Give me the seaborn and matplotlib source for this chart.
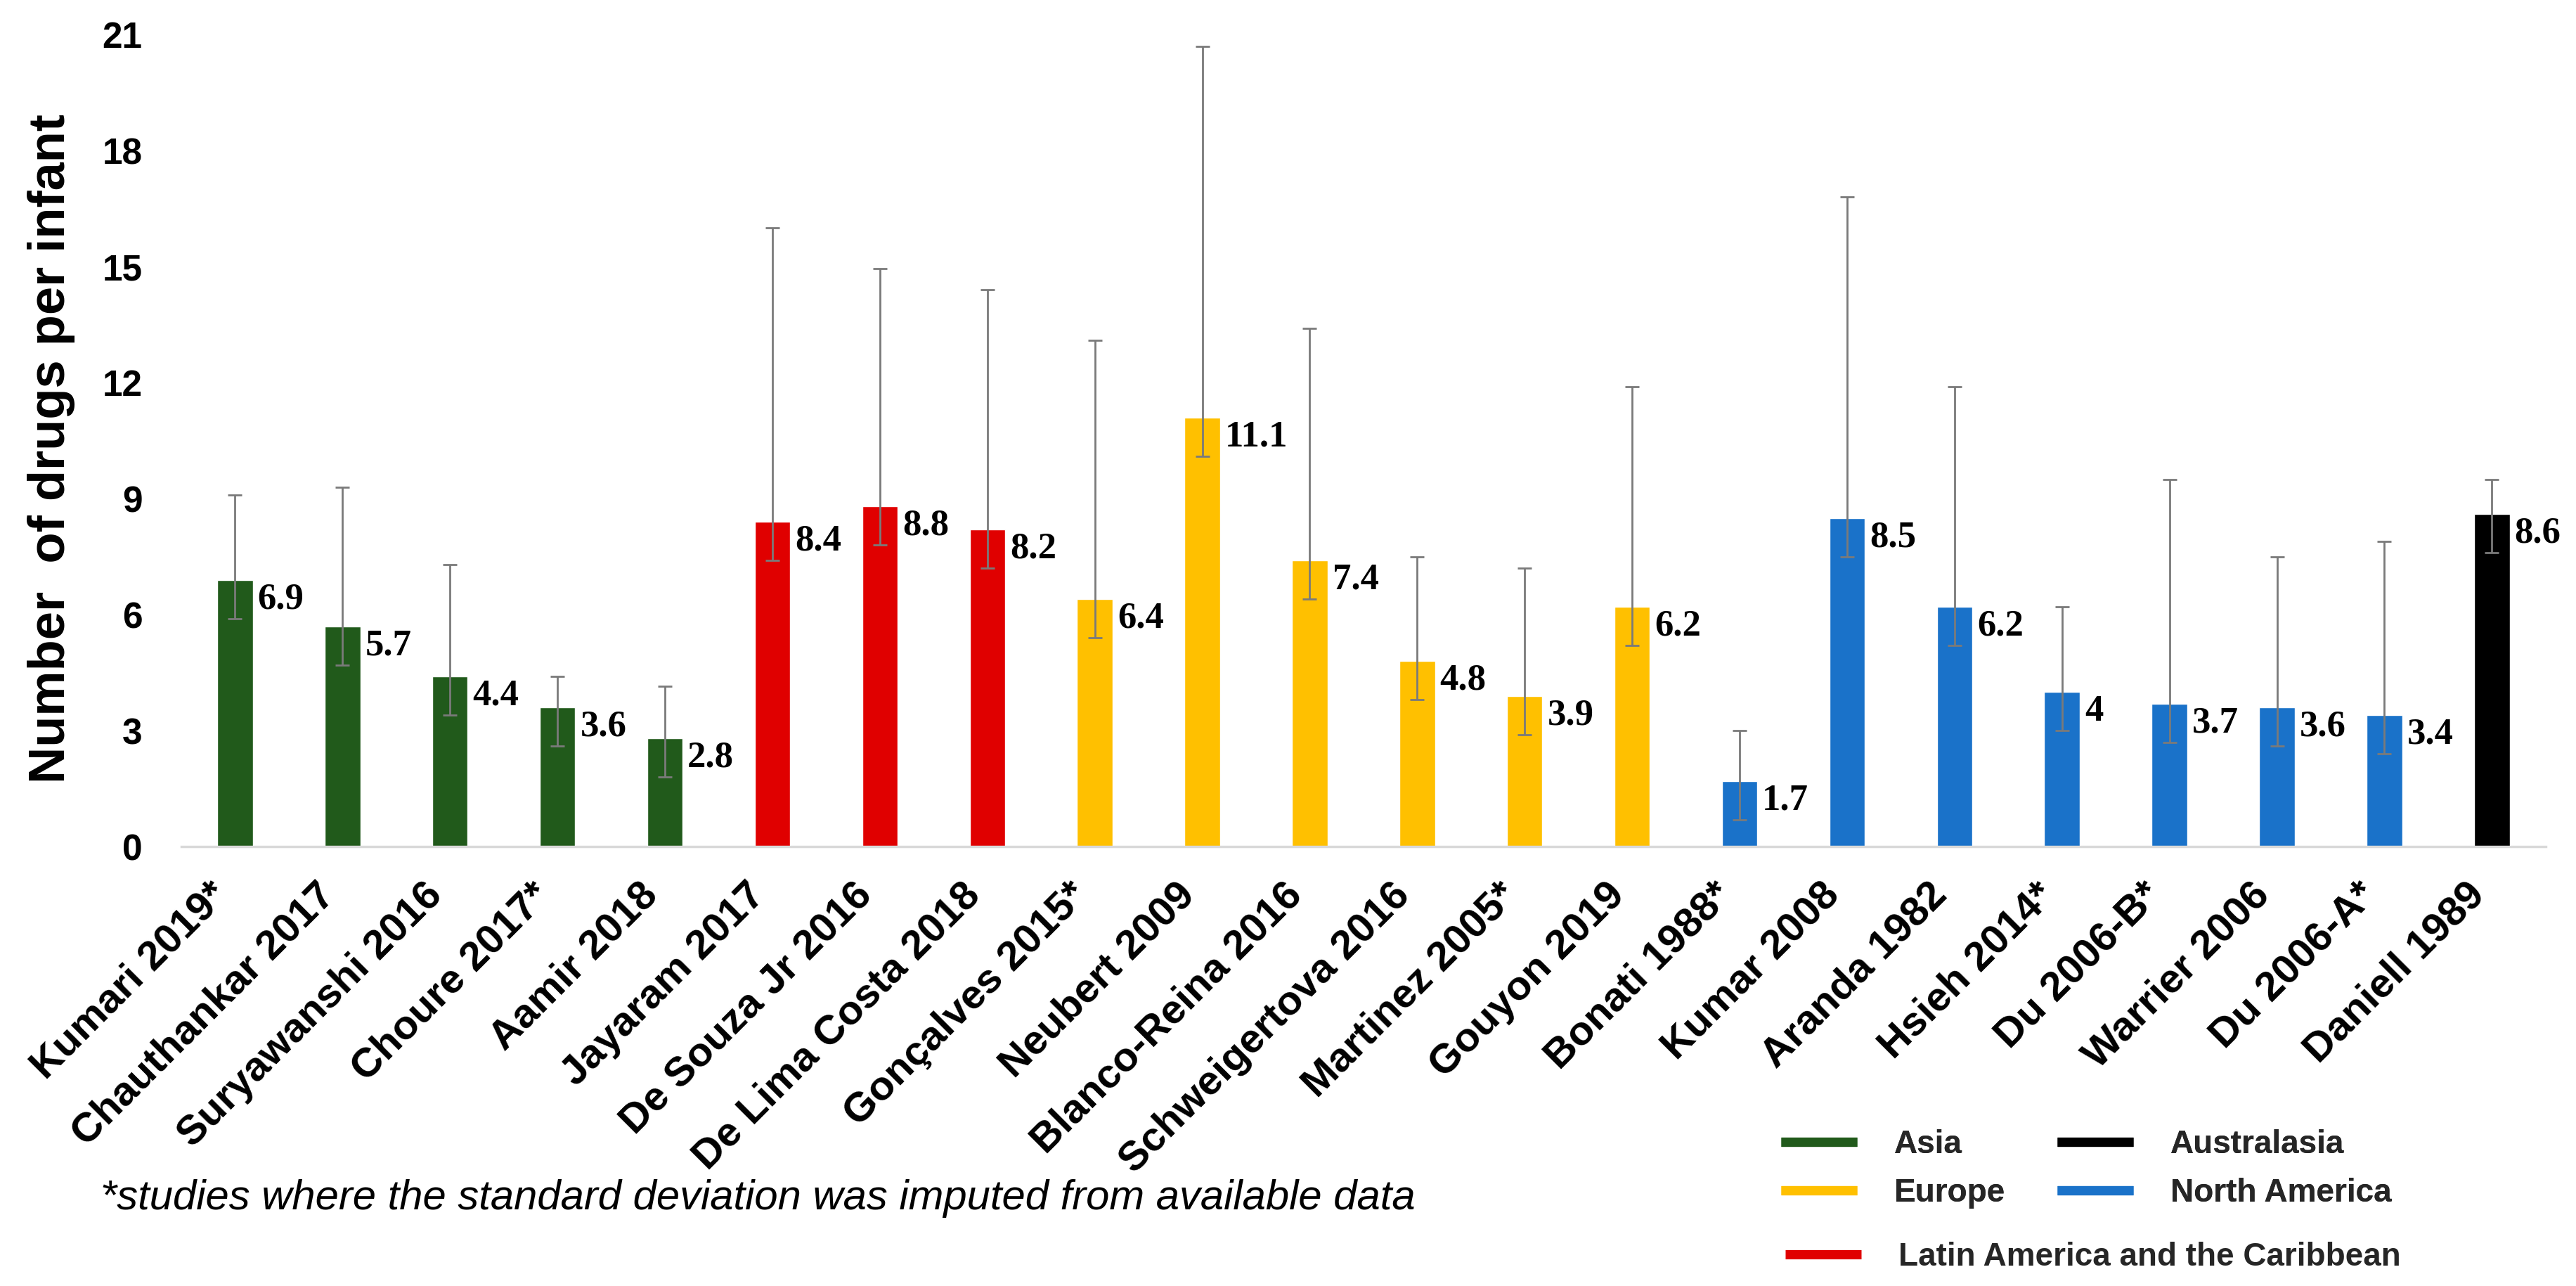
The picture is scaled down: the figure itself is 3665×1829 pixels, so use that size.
import matplotlib
matplotlib.use("Agg")
import matplotlib.pyplot as plt
import seaborn as sns
import pandas as pd
import numpy as np
from matplotlib.lines import Line2D

studies = ["Kumari 2019*", "Chauthankar 2017", "Suryawanshi 2016", "Choure 2017*", "Aamir 2018",
           "Jayaram 2017", "De Souza Jr 2016", "De Lima Costa 2018",
           "Gonçalves 2015*", "Neubert 2009", "Blanco-Reina 2016", "Schweigertova 2016",
           "Martinez 2005*", "Gouyon 2019",
           "Bonati 1988*", "Kumar 2008", "Aranda 1982", "Hsieh 2014*", "Du 2006-B*",
           "Warrier 2006", "Du 2006-A*", "Daniell 1989"]
regions = ["Asia"] * 5 + ["Latin America and the Caribbean"] * 3 + ["Europe"] * 6 + \
          ["North America"] * 7 + ["Australasia"]
means = [6.9, 5.7, 4.4, 3.6, 2.8,
         8.4, 8.8, 8.2,
         6.4, 11.1, 7.4, 4.8, 3.9, 6.2,
         1.7, 8.5, 6.2, 4, 3.7, 3.6, 3.4,
         8.6]
upper = [9.1, 9.3, 7.3, 4.4, 4.15,
         16.0, 14.95, 14.4,
         13.1, 20.7, 13.4, 7.5, 7.2, 11.9,
         3.0, 16.8, 11.9, 6.2, 9.5, 7.5, 7.9,
         9.5]
lower = [5.9, 4.7, 3.4, 2.6, 1.8,
         7.4, 7.8, 7.2,
         5.4, 10.1, 6.4, 3.8, 2.9, 5.2,
         0.7, 7.5, 5.2, 3.0, 2.7, 2.6, 2.4,
         7.6]
region_order = ["Asia", "Latin America and the Caribbean", "Europe", "North America", "Australasia"]
region_colors = {"Asia": "#215A1B",
                 "Latin America and the Caribbean": "#E00000",
                 "Europe": "#FFC000",
                 "North America": "#1A72C9",
                 "Australasia": "#000000"}
y_ticks = [0, 3, 6, 9, 12, 15, 18, 21]
footnote = "*studies where the standard deviation was imputed from available data"
y_label = "Number  of drugs per infant"

sns.set_theme(style="white")
plt.rcParams['font.family'] = ['Liberation Sans', 'DejaVu Sans']

fig = plt.figure(figsize=(36.65, 18.29), dpi=100)
ax = fig.add_axes([0.0704, 0.3417, 0.9178, 0.6315])

df = pd.DataFrame({"study": studies, "region": regions, "mean": means})
sns.barplot(data=df, x="study", y="mean", hue="region", order=studies,
            hue_order=region_order, palette=region_colors, dodge=False,
            width=0.33, saturation=1, errorbar=None, legend=False, ax=ax)

m = np.array(means)
yerr = [m - np.array(lower), np.array(upper) - m]
xs = np.arange(len(studies))
ax.errorbar(xs, m, yerr=yerr, fmt='none', ecolor='#7A7A7A', elinewidth=2,
            capsize=7.5, capthick=2, zorder=3)

for i, v in enumerate(means):
    ax.annotate(f"{v:g}", xy=(i + 0.165, v - 0.5), xytext=(5, 0), textcoords='offset points',
                ha='left', va='center', fontfamily='Liberation Serif', fontweight='bold',
                fontsize=38, color='black', zorder=4)

ax.set_xlim(-0.5, len(studies) - 0.5)
ax.set_ylim(0, 21)
ax.set_yticks(y_ticks)
ax.set_yticklabels([str(t) for t in y_ticks], fontsize=37, fontweight='bold')
ax.set_xticks(xs)
ax.set_xticklabels(studies, rotation=45, ha='right', fontweight='bold', fontsize=42)
ax.tick_params(axis='x', length=0, pad=30, colors='black')
ax.tick_params(axis='y', length=0, pad=40, colors='black')
ax.set_xlabel("")
ax.set_ylabel(y_label, fontsize=52, fontweight='bold', color='black')
ax.yaxis.set_label_coords(-0.045, 0.49)

for s in ["top", "right", "left"]:
    ax.spines[s].set_visible(False)
ax.spines["bottom"].set_color("#D9D9D9")
ax.spines["bottom"].set_linewidth(2.5)
ax.grid(False)

fig.text(143 / 3665, 1 - 1705 / 1829, footnote, fontstyle='italic', fontsize=43,
         ha='left', va='center', color='black')

def h(r):
    return Line2D([0], [0], color=region_colors[r], lw=9.5, solid_capstyle='butt')

prop = {'weight': 'bold', 'size': 33, 'family': 'Liberation Sans'}
leg1 = fig.legend(handles=[h("Asia"), h("Europe"), h("Australasia"), h("North America")],
                  labels=["Asia", "Europe", "Australasia", "North America"],
                  ncol=2, loc='upper left', bbox_to_anchor=(0.6914, 0.1219),
                  frameon=False, prop=prop, handlelength=2.36, handletextpad=1.16,
                  columnspacing=1.6, labelspacing=0.55, borderpad=0, borderaxespad=0)
fig.add_artist(leg1)
leg2 = fig.legend(handles=[h("Latin America and the Caribbean")],
                  labels=["Latin America and the Caribbean"],
                  loc='upper left', bbox_to_anchor=(0.693, 0.0344),
                  frameon=False, prop=prop, handlelength=2.36, handletextpad=1.16,
                  borderpad=0, borderaxespad=0)

fig.savefig("out.png", dpi=100, facecolor='white')
